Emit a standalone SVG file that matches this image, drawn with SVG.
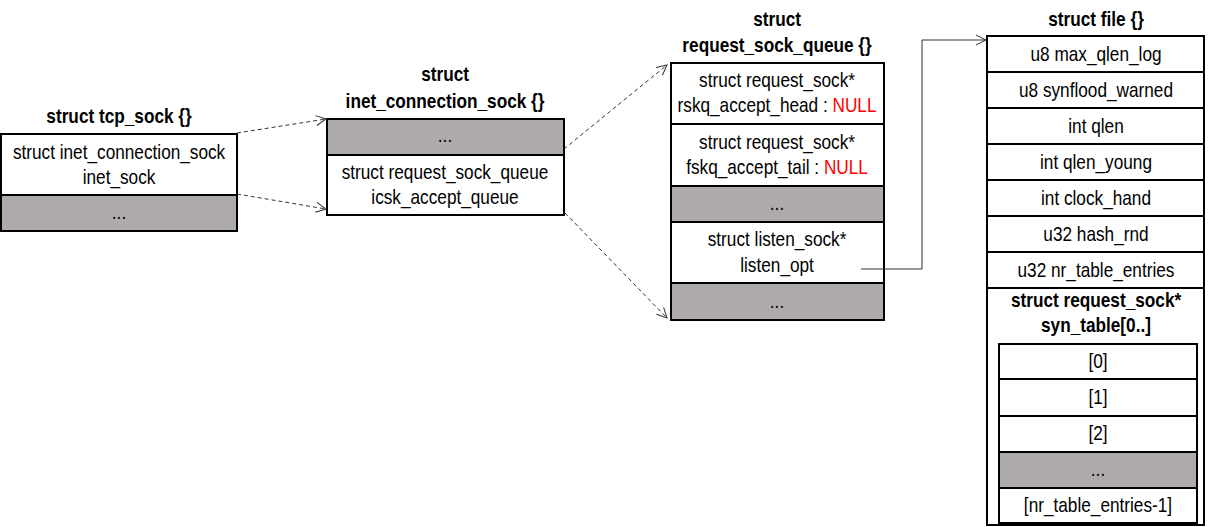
<svg xmlns="http://www.w3.org/2000/svg" width="1208" height="527" viewBox="0 0 1208 527">
<style>
text{font-family:"Liberation Sans",Arial,sans-serif;font-size:21px;fill:#000;text-anchor:middle;transform-box:fill-box;transform-origin:center;transform:scaleX(0.82)}
.b{font-weight:bold}
.w{fill:#fff;stroke:#000;stroke-width:2}
.g{fill:#aeaaaa;stroke:#000;stroke-width:2}
.red{fill:#ff0000}
.dash{fill:none;stroke:#333;stroke-width:1;stroke-dasharray:4,3}
.solid{fill:none;stroke:#333;stroke-width:1}
</style>
<defs>
<marker id="arr" markerWidth="12" markerHeight="12" refX="11" refY="6" orient="auto" markerUnits="userSpaceOnUse">
<path d="M1,1 L11,6 L1,11" fill="none" stroke="#333" stroke-width="1"/>
</marker>
</defs>
<g id="tcp_sock">
<text class="b" x="119" y="123">struct tcp_sock {}</text>
<rect class="w" x="1" y="134" width="236" height="61"/>
<rect class="g" x="1" y="195" width="236" height="36"/>
<text x="119" y="159">struct inet_connection_sock</text>
<text x="119" y="184">inet_sock</text>
<text x="119" y="219">...</text>
</g>
<g id="inet_connection_sock">
<text class="b" x="445" y="81">struct</text>
<text class="b" x="445" y="108">inet_connection_sock {}</text>
<rect class="g" x="327" y="119" width="237" height="36"/>
<rect class="w" x="327" y="155" width="237" height="60"/>
<text x="445" y="142">...</text>
<text x="445" y="179">struct request_sock_queue</text>
<text x="445" y="204">icsk_accept_queue</text>
</g>
<g id="request_sock_queue">
<text class="b" x="777" y="26">struct</text>
<text class="b" x="777" y="52">request_sock_queue {}</text>
<rect class="w" x="671" y="63" width="213" height="61"/>
<rect class="w" x="671" y="124" width="213" height="62"/>
<rect class="g" x="671" y="186" width="213" height="36"/>
<rect class="w" x="671" y="222" width="213" height="61"/>
<rect class="g" x="671" y="283" width="213" height="37"/>
<text x="777" y="87">struct request_sock*</text>
<text x="777" y="112">rskq_accept_head : <tspan class="red">NULL</tspan></text>
<text x="777" y="149">struct request_sock*</text>
<text x="777" y="174">fskq_accept_tail : <tspan class="red">NULL</tspan></text>
<text x="777" y="210">...</text>
<text x="777" y="246">struct listen_sock*</text>
<text x="777" y="272">listen_opt</text>
<text x="777" y="308">...</text>
</g>
<g id="file">
<text class="b" x="1096" y="26">struct file {}</text>
<rect class="w" x="987" y="36" width="217" height="489"/>
<rect class="w" x="987" y="36" width="217" height="36"/>
<rect class="w" x="987" y="72" width="217" height="36"/>
<rect class="w" x="987" y="108" width="217" height="36"/>
<rect class="w" x="987" y="144" width="217" height="36"/>
<rect class="w" x="987" y="180" width="217" height="36"/>
<rect class="w" x="987" y="216" width="217" height="36"/>
<rect class="w" x="987" y="252" width="217" height="36"/>
<text x="1096" y="61">u8 max_qlen_log</text>
<text x="1096" y="97">u8 synflood_warned</text>
<text x="1096" y="133">int qlen</text>
<text x="1096" y="169">int qlen_young</text>
<text x="1096" y="205">int clock_hand</text>
<text x="1096" y="241">u32 hash_rnd</text>
<text x="1096" y="277">u32 nr_table_entries</text>
<text class="b" x="1096" y="307">struct request_sock*</text>
<text class="b" x="1096" y="332">syn_table[0..]</text>
<rect class="w" x="999" y="344" width="198" height="35"/>
<rect class="w" x="999" y="379" width="198" height="37"/>
<rect class="w" x="999" y="416" width="198" height="36"/>
<rect class="g" x="999" y="452" width="198" height="36"/>
<rect class="w" x="999" y="488" width="198" height="35"/>
<text x="1098" y="368">[0]</text>
<text x="1098" y="404">[1]</text>
<text x="1098" y="440">[2]</text>
<text x="1098" y="476">...</text>
<text x="1098" y="512">[nr_table_entries-1]</text>
</g>
<g id="connectors">
<path class="dash" d="M237,133 L326,119" marker-end="url(#arr)"/>
<path class="dash" d="M237,194 L326,209" marker-end="url(#arr)"/>
<path class="dash" d="M564,149 L667,65" marker-end="url(#arr)"/>
<path class="dash" d="M565,213 L667,318" marker-end="url(#arr)"/>
<path class="solid" d="M861,269 L922,269 L922,40 L986,40" marker-end="url(#arr)"/>
</g>
</svg>
